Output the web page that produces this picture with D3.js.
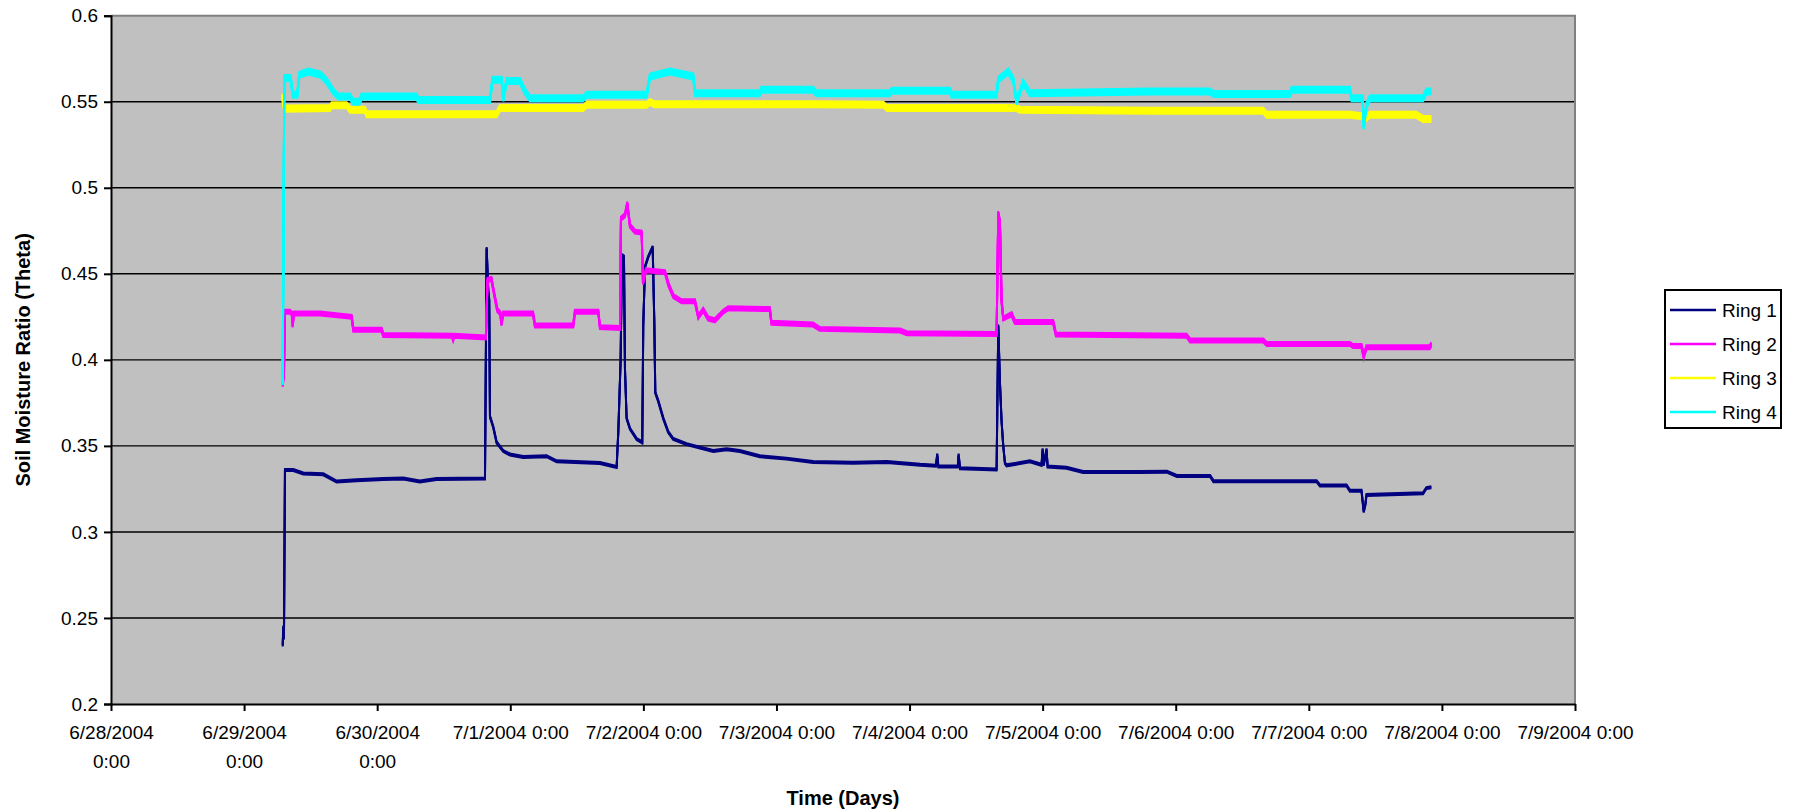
<!DOCTYPE html>
<html>
<head>
<meta charset="utf-8">
<script src="https://cdn.jsdelivr.net/npm/d3@7"></script>
<style>
  body { margin: 0; background: #fff; }
  text { font-family: Arial, "Liberation Sans", sans-serif; fill: #000; }
</style>
</head>
<body>
<script>
// readings as [hours after 6/28/2004 0:00, theta]
const ring1 = [[30.96,0.234],[31.07,0.245],[31.19,0.238],[31.37,0.336],[32.87,0.336],[34.68,0.334],[38.28,0.3335],[40.69,0.3293],[44.3,0.330],[49.1,0.3307],[52.7,0.331],[55.7,0.3293],[58.7,0.3307],[67.44,0.331],[67.74,0.465],[68.03,0.44],[68.2,0.435],[68.34,0.367],[68.93,0.361],[69.54,0.352],[70.74,0.347],[71.94,0.345],[74.34,0.3435],[78.55,0.344],[80.36,0.341],[88.17,0.340],[91.18,0.3377],[91.48,0.358],[91.9,0.40],[92.14,0.4608],[92.5,0.46],[92.68,0.395],[92.98,0.366],[93.58,0.36],[94.79,0.354],[95.8,0.352],[95.98,0.42],[96.29,0.454],[96.89,0.46],[97.68,0.4657],[97.97,0.4226],[98.15,0.381],[98.69,0.376],[99.59,0.366],[100.49,0.358],[101.39,0.354],[103.8,0.351],[106.2,0.349],[108.6,0.347],[111.0,0.348],[113.4,0.347],[117.0,0.344],[121.8,0.3426],[126.6,0.3406],[133.8,0.3402],[139.9,0.3406],[145.9,0.339],[148.76,0.3385],[149.0,0.345],[149.2,0.338],[152.7,0.338],[152.85,0.345],[153.1,0.337],[159.7,0.3363],[160.0,0.42],[160.3,0.387],[160.6,0.364],[160.9,0.35],[161.2,0.340],[161.5,0.3387],[165.7,0.341],[167.8,0.339],[168.0,0.348],[168.2,0.339],[168.7,0.348],[168.9,0.338],[172.3,0.3373],[175.3,0.3348],[185.5,0.3348],[190.4,0.335],[192.2,0.3325],[198.2,0.3325],[198.8,0.3295],[217.4,0.3295],[218.0,0.327],[222.8,0.327],[223.4,0.324],[225.5,0.324],[225.9,0.3118],[226.2,0.316],[226.4,0.3215],[236.6,0.3225],[237.2,0.3255],[238.1,0.326]];

const ring2 = [[30.96,0.3855],[31.19,0.392],[31.37,0.428],[32.27,0.428],[32.6,0.427],[32.75,0.420],[33.0,0.427],[37.7,0.427],[43.4,0.425],[43.7,0.4175],[48.8,0.4175],[49.1,0.4145],[61.5,0.414],[61.7,0.412],[61.9,0.414],[67.6,0.413],[67.9,0.4465],[68.6,0.447],[69.06,0.439],[69.66,0.429],[70.2,0.427],[70.4,0.421],[70.74,0.427],[76.1,0.427],[76.45,0.420],[83.36,0.420],[83.66,0.428],[87.87,0.428],[88.17,0.419],[91.78,0.4185],[91.96,0.482],[92.68,0.484],[93.1,0.4908],[93.58,0.478],[94.48,0.4745],[95.69,0.474],[95.93,0.445],[96.47,0.452],[99.9,0.451],[100.5,0.444],[101.4,0.437],[102.9,0.434],[105.3,0.434],[105.9,0.425],[106.8,0.429],[107.7,0.424],[108.9,0.423],[110.4,0.428],[111.3,0.430],[118.8,0.4295],[119.1,0.4215],[126.6,0.4205],[127.8,0.418],[142.3,0.417],[143.5,0.4155],[159.7,0.415],[160.0,0.4853],[160.3,0.48],[160.6,0.434],[160.9,0.424],[162.4,0.4265],[163.0,0.422],[169.9,0.422],[170.4,0.4147],[193.96,0.414],[194.6,0.4112],[207.8,0.4112],[208.4,0.4092],[223.4,0.4092],[224.0,0.408],[225.5,0.408],[225.9,0.402],[226.4,0.4073],[237.8,0.4073],[238.1,0.409]];

const ring3 = [[30.89,0.553],[31.25,0.546],[39.49,0.5463],[39.79,0.548],[42.5,0.548],[43.1,0.5454],[45.8,0.5454],[46.1,0.5428],[69.54,0.5428],[70.14,0.5463],[85.16,0.5463],[85.77,0.5483],[96.6,0.5483],[97.19,0.5498],[98.0,0.5486],[127.2,0.5486],[139.3,0.5483],[139.9,0.5463],[163.3,0.5463],[163.9,0.5454],[187.3,0.5448],[207.8,0.5448],[208.4,0.5424],[223.4,0.5424],[225.8,0.5415],[226.1,0.540],[227.0,0.5424],[235.4,0.5424],[236.6,0.540],[238.1,0.540]];

const ring4 = [[30.96,0.387],[31.25,0.5638],[32.4,0.5638],[32.76,0.554],[33.6,0.554],[33.96,0.5657],[35.58,0.5676],[37.8,0.5657],[38.9,0.562],[40.09,0.556],[41.0,0.553],[43.1,0.553],[43.7,0.550],[44.8,0.550],[45.2,0.553],[55.1,0.553],[55.4,0.551],[68.34,0.551],[68.8,0.5628],[70.44,0.5628],[70.74,0.552],[71.35,0.562],[73.75,0.562],[74.65,0.556],[75.55,0.552],[85.16,0.552],[85.77,0.554],[96.6,0.554],[97.19,0.5647],[100.8,0.5676],[105.0,0.5647],[105.3,0.555],[117.0,0.555],[117.3,0.557],[126.6,0.557],[127.2,0.555],[140.45,0.555],[140.8,0.5564],[151.3,0.5564],[151.6,0.554],[159.7,0.554],[160.0,0.5628],[161.8,0.5676],[162.7,0.5628],[163.3,0.550],[164.5,0.561],[165.7,0.555],[187.3,0.556],[198.2,0.556],[198.8,0.5545],[212.6,0.5545],[212.9,0.557],[223.4,0.557],[223.7,0.552],[225.7,0.552],[225.9,0.5357],[226.4,0.548],[227.0,0.552],[236.6,0.552],[237.2,0.556],[238.1,0.556]];

const seriesNames = ["Ring 1", "Ring 2", "Ring 3", "Ring 4"];
const seriesColors = ["#000080", "#FF00FF", "#FFFF00", "#00FFFF"];
const yTicks = [0.2, 0.25, 0.3, 0.35, 0.4, 0.45, 0.5, 0.55, 0.6];
const xTickLabels = [
  ["6/28/2004", "0:00"], ["6/29/2004", "0:00"], ["6/30/2004", "0:00"],
  ["7/1/2004 0:00"], ["7/2/2004 0:00"], ["7/3/2004 0:00"], ["7/4/2004 0:00"],
  ["7/5/2004 0:00"], ["7/6/2004 0:00"], ["7/7/2004 0:00"], ["7/8/2004 0:00"], ["7/9/2004 0:00"]
];

const width = 1807, height = 812;
const margin = {top: 15.7, left: 111, right: 232, bottom: 108};
const plotW = width - margin.left - margin.right;
const plotH = height - margin.top - margin.bottom;

const svg = d3.select("body").append("svg")
  .attr("width", width).attr("height", height);

const t0 = new Date(2004, 5, 28);
const toDate = h => new Date(t0.getTime() + h * 3600e3);
const xTickDates = xTickLabels.map((d, i) => toDate(i * 24));

const x = d3.scaleTime().domain([t0, toDate(11 * 24)]).range([margin.left, margin.left + plotW]);
const y = d3.scaleLinear().domain([0.2, 0.6]).range([margin.top + plotH, margin.top]);

// plot area
svg.append("rect")
  .attr("x", margin.left).attr("y", margin.top)
  .attr("width", plotW).attr("height", plotH)
  .attr("fill", "#C0C0C0");

// gridlines
svg.append("g").selectAll("line")
  .data(yTicks.slice(1, -1))
  .join("line")
  .attr("x1", margin.left).attr("x2", margin.left + plotW)
  .attr("y1", d => y(d)).attr("y2", d => y(d))
  .attr("stroke", "#000").attr("stroke-width", 1.4);

// top / right border
svg.append("path")
  .attr("d", `M${margin.left},${margin.top}H${margin.left + plotW}V${margin.top + plotH}`)
  .attr("fill", "none").attr("stroke", "#808080").attr("stroke-width", 2);

svg.append("clipPath").attr("id", "clip")
  .append("rect")
  .attr("x", margin.left).attr("y", margin.top)
  .attr("width", plotW).attr("height", plotH);

const line = d3.line().x(d => x(toDate(d[0]))).y(d => y(d[1]));

// noisy readings drawn as a vertical band: copies shifted up/down a few px
const bandHalf = [1, 2, 3, 3];
const lines_layer = svg.append("g").attr("clip-path", "url(#clip)");
[ring1, ring2, ring3, ring4].forEach((s, i) => {
  const offsets = d3.range(-bandHalf[i], bandHalf[i] + 1);
  lines_layer.append("g")
    .selectAll("path")
    .data(offsets)
    .join("path")
    .attr("transform", o => `translate(0,${o})`)
    .attr("d", line(s))
    .attr("fill", "none")
    .attr("stroke", seriesColors[i])
    .attr("stroke-width", 2)
    .attr("stroke-linejoin", "miter");
});

// axes
const yAxis = svg.append("g")
  .attr("transform", `translate(${margin.left},0)`)
  .call(d3.axisLeft(y).tickValues(yTicks).tickSize(7).tickPadding(6)
    .tickFormat(d => String(+d.toFixed(2))));
yAxis.selectAll("text").style("font-size", "19px").style("font-family", "Arial, 'Liberation Sans', sans-serif");
yAxis.selectAll("line, path").attr("stroke", "#000").attr("stroke-width", 2);

const xAxis = svg.append("g")
  .attr("transform", `translate(0,${margin.top + plotH})`)
  .call(d3.axisBottom(x).tickValues(xTickDates).tickSize(7).tickSizeOuter(0).tickFormat(""));
xAxis.selectAll("line, path").attr("stroke", "#000").attr("stroke-width", 2);
xAxis.selectAll(".tick text").remove();
xAxis.selectAll(".tick").each(function(d, i) {
  const t = d3.select(this).append("text")
    .attr("text-anchor", "middle")
    .style("font-size", "19px")
    .style("font-family", "Arial, 'Liberation Sans', sans-serif")
    .attr("fill", "#000");
  xTickLabels[i].forEach((s, j) => {
    t.append("tspan").attr("x", 0).attr("y", 35 + j * 28.5).text(s);
  });
});

// axis titles
svg.append("text")
  .attr("x", margin.left + plotW / 2).attr("y", 805)
  .attr("text-anchor", "middle")
  .style("font-size", "20px").style("font-weight", "bold")
  .text("Time (Days)");

svg.append("text")
  .attr("transform", `translate(30,${margin.top + plotH / 2}) rotate(-90)`)
  .attr("text-anchor", "middle")
  .style("font-size", "20px").style("font-weight", "bold")
  .text("Soil Moisture Ratio (Theta)");

// legend
const legend = svg.append("g").attr("transform", "translate(1665,290)");
legend.append("rect")
  .attr("width", 116).attr("height", 138)
  .attr("fill", "#fff").attr("stroke", "#000").attr("stroke-width", 2);
const items = legend.selectAll("g.item")
  .data(seriesNames)
  .join("g").attr("class", "item")
  .attr("transform", (d, i) => `translate(0,${20 + i * 34})`);
items.append("line")
  .attr("x1", 5).attr("x2", 51)
  .attr("stroke", (d, i) => seriesColors[i]).attr("stroke-width", 2.5);
items.append("text")
  .attr("x", 57).attr("y", 7)
  .style("font-size", "19px")
  .text(d => d);
</script>
</body>
</html>
